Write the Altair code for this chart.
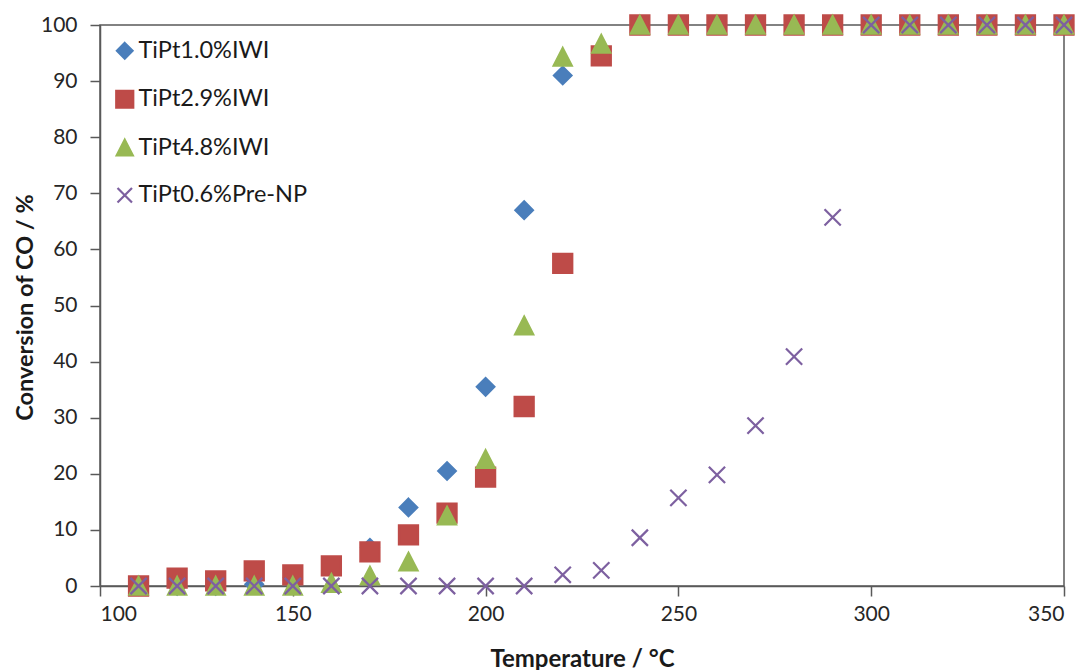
import altair as alt
import pandas as pd

temperature = [110, 120, 130, 140, 150, 160, 170, 180, 190, 200, 210, 220, 230,
               240, 250, 260, 270, 280, 290, 300, 310, 320, 330, 340, 350]

tipt_1_0_iwi = [0, 0, 0, 0.3, 1.5, 3.2, 6.8, 14, 20.5, 35.5, 67, 91, 95,
                100, 100, 100, 100, 100, 100, 100, 100, 100, 100, 100, 100]
tipt_2_9_iwi = [0, 1.4, 0.9, 2.7, 2.0, 3.6, 6.1, 9.1, 13, 19.4, 32, 57.5, 94.5,
                100, 100, 100, 100, 100, 100, 100, 100, 100, 100, 100, 100]
tipt_4_8_iwi = [0, 0, 0, 0, 0, 0.5, 1.8, 4.3, 12.5, 22.6, 46.4, 94.3, 96.6,
                100, 100, 100, 100, 100, 100, 100, 100, 100, 100, 100, 100]
tipt_0_6_prenp = [0, 0, 0, 0, 0, 0, 0, 0, 0, 0, 0, 2, 2.8,
                  8.6, 15.7, 19.8, 28.6, 40.9, 65.7, 100, 100, 100, 100, 100, 100]

series_names = ["TiPt1.0%IWI", "TiPt2.9%IWI", "TiPt4.8%IWI", "TiPt0.6%Pre-NP"]
series_values = [tipt_1_0_iwi, tipt_2_9_iwi, tipt_4_8_iwi, tipt_0_6_prenp]
colors = ["#4A7EBB", "#BE4B48", "#98B954", "#7D60A0"]
shapes = [
    "M0,-0.92L0.92,0L0,0.92L-0.92,0Z",
    "M-1,-1L1,-1L1,1L-1,1Z",
    "M0,-0.95L0.95,0.9L-0.95,0.9Z",
    "M-0.85,-0.85L0.85,0.85M-0.85,0.85L0.85,-0.85",
]

rows = []
for name, vals in zip(series_names, series_values):
    for t, v in zip(temperature, vals):
        rows.append({"series": name, "temperature": t, "conversion": v})
df = pd.DataFrame(rows)

FONT = "Lato"
AX = "#595959"

legend = alt.Legend(
    orient="none", legendX=13, legendY=14, title=None,
    labelFont=FONT, labelFontSize=23.5, labelColor="#1a1a1a", labelLimit=400,
    symbolSize=290, symbolStrokeWidth=2.2, rowPadding=22.5, labelOffset=2,
    padding=0,
)

chart = alt.Chart(df).mark_point(filled=True, opacity=1, strokeWidth=2.2, size=365).encode(
    x=alt.X("temperature:Q",
            scale=alt.Scale(domain=[100, 350], nice=False, zero=False),
            axis=alt.Axis(values=[100, 150, 200, 250, 300, 350], title="Temperature / °C",
                          titleX=482, titleY=80, titleBaseline="alphabetic", titleAlign="center",
                          titleFontSize=24, labelPadding=7)),
    y=alt.Y("conversion:Q",
            scale=alt.Scale(domain=[0, 100], nice=False),
            axis=alt.Axis(values=list(range(0, 101, 10)), title="Conversion of CO / %",
                          titleX=-75, titleY=282, titleAngle=-90, titleFontSize=23.5,
                          titleBaseline="middle", titleAlign="center", labelPadding=13)),
    fill=alt.Fill("series:N", scale=alt.Scale(domain=series_names, range=colors), legend=legend),
    stroke=alt.Stroke("series:N", scale=alt.Scale(domain=series_names, range=colors), legend=legend),
    shape=alt.Shape("series:N", scale=alt.Scale(domain=series_names, range=shapes), legend=legend),
).properties(
    width=964, height=561,
    autosize=alt.AutoSizeParams(type="none"),
    padding={"left": 92, "top": 17, "right": 17, "bottom": 86},
    background="white",
).configure_view(
    stroke=AX, strokeWidth=1.5
).configure_axis(
    grid=False, domainColor=AX, domainWidth=1.5, tickColor=AX, tickWidth=1.5, tickSize=10,
    labelFont=FONT, labelFontSize=21, labelColor="#262626",
    titleFont=FONT, titleFontWeight="bold", titleColor="#1a1a1a",
)

chart.save("out.html", embed_options={"renderer": "svg", "actions": False})
